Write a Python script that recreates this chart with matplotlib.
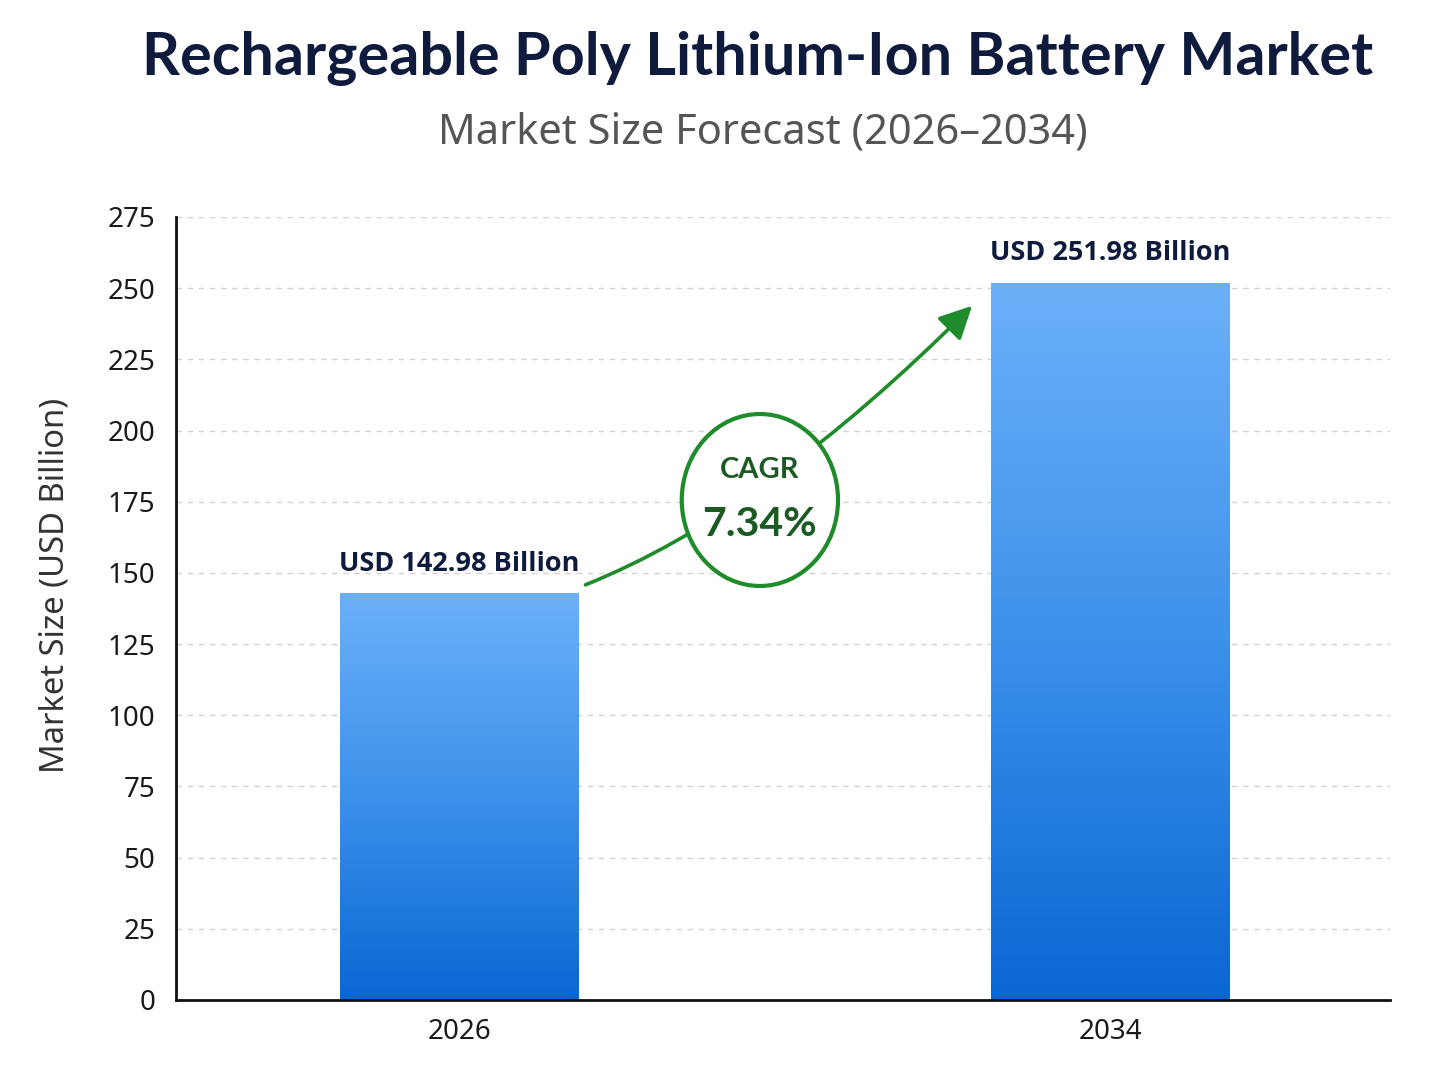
import numpy as np
import matplotlib
matplotlib.use("Agg")
import matplotlib.pyplot as plt
from matplotlib.patches import Ellipse, FancyArrowPatch
from matplotlib.path import Path
from matplotlib.colors import LinearSegmentedColormap

# chart data
years = ["2026", "2034"]
market_size = [142.98, 251.98]
value_labels = ["USD 142.98 Billion", "USD 251.98 Billion"]
cagr_text = "7.34%"
y_ticks = [0, 25, 50, 75, 100, 125, 150, 175, 200, 225, 250, 275]

title = "Rechargeable Poly Lithium-Ion Battery Market"
subtitle = "Market Size Forecast (2026\u20132034)"
y_label = "Market Size (USD Billion)"

NAVY = "#0f1b3d"
GREEN = "#1f8b2b"
DARK_GREEN = "#1b5a22"

plt.rcParams["font.family"] = ["Noto Sans", "DejaVu Sans"]

fig = plt.figure(figsize=(14.48, 10.86), dpi=100)
fig.patch.set_facecolor("white")
ax = fig.add_axes([0.1215, 0.0792, 0.8385, 0.721])

x = np.arange(len(years))
bar_width = 0.366
bars = ax.bar(x, market_size, width=bar_width, color="none", edgecolor="none", zorder=2)

# vertical gradient fill for each bar (light at top, dark at bottom)
cmap = LinearSegmentedColormap.from_list("bar_grad", ["#0a66d3", "#3c91ea", "#6cb0f9"])
grad = np.linspace(0, 1, 256).reshape(-1, 1)
for rect in bars:
    x0, y0 = rect.get_x(), rect.get_y()
    w, h = rect.get_width(), rect.get_height()
    im = ax.imshow(grad, cmap=cmap, origin="lower", aspect="auto",
                   extent=[x0, x0 + w, y0, y0 + h], zorder=2)
    im.set_clip_path(rect)

ax.set_xlim(-0.435, 1.43)
ax.set_ylim(0, 275)
ax.set_xticks(x)
ax.set_xticklabels(years, fontsize=20, color="#1a1a1a")
ax.set_yticks(y_ticks)
ax.set_yticklabels([str(t) for t in y_ticks], fontsize=20, color="#1a1a1a")
ax.tick_params(axis="both", length=0)
ax.tick_params(axis="y", pad=15)
ax.tick_params(axis="x", pad=13)

ax.grid(axis="y", linestyle=(0, (4, 4)), color="#d2d2d2", linewidth=1, zorder=0)
ax.set_axisbelow(True)
for side in ["top", "right"]:
    ax.spines[side].set_visible(False)
for side in ["left", "bottom"]:
    ax.spines[side].set_linewidth(2)
    ax.spines[side].set_color("#111111")
    ax.spines[side].set_zorder(4)

ax.set_ylabel(y_label, fontsize=23.6, color="#333333")
ax.yaxis.set_label_coords(-0.086, 0.53)

# value labels on top of bars
for xi, val, lab in zip(x, market_size, value_labels):
    ax.annotate(lab, (xi, val), xytext=(0, 16), textcoords="offset points",
                ha="center", va="baseline", fontsize=19.5, fontweight="bold",
                color=NAVY, zorder=5, family=["Open Sans", "DejaVu Sans"])

# growth arrow between the bars
p0 = (x[0] + 0.194, 145.8)
c1 = (x[0] + 0.470, 171.1)
p2 = (x[0] + 0.788, 243.8)
arrow_path = Path([p0, c1, p2], [Path.MOVETO, Path.CURVE3, Path.CURVE3])
arrow = FancyArrowPatch(path=arrow_path, arrowstyle="-|>,head_length=20,head_width=10",
                        mutation_scale=1, color=GREEN, linewidth=2.6, zorder=5)
ax.add_patch(arrow)

# CAGR badge
badge = Ellipse((x[0] + 0.462, 175.6), width=0.24, height=60.4, facecolor="white",
                edgecolor=GREEN, linewidth=3, zorder=6)
ax.add_patch(badge)
ax.text(x[0] + 0.462, 186, "CAGR", ha="center", va="center", fontsize=21,
        fontweight="bold", color=DARK_GREEN, zorder=7, family=["Lato", "DejaVu Sans"])
ax.text(x[0] + 0.462, 167, cagr_text, ha="center", va="center", fontsize=29.5,
        fontweight="bold", color=DARK_GREEN, zorder=7, family=["Lato", "DejaVu Sans"])

fig.text(0.523, 1 - 58 / 1086, title, ha="center", va="center", fontsize=42.7,
         fontweight="bold", color=NAVY, family=["Lato", "DejaVu Sans"])
fig.text(0.527, 1 - 133 / 1086, subtitle, ha="center", va="center", fontsize=30,
         color="#555555")

fig.savefig("out.png", dpi=100, facecolor="white")
